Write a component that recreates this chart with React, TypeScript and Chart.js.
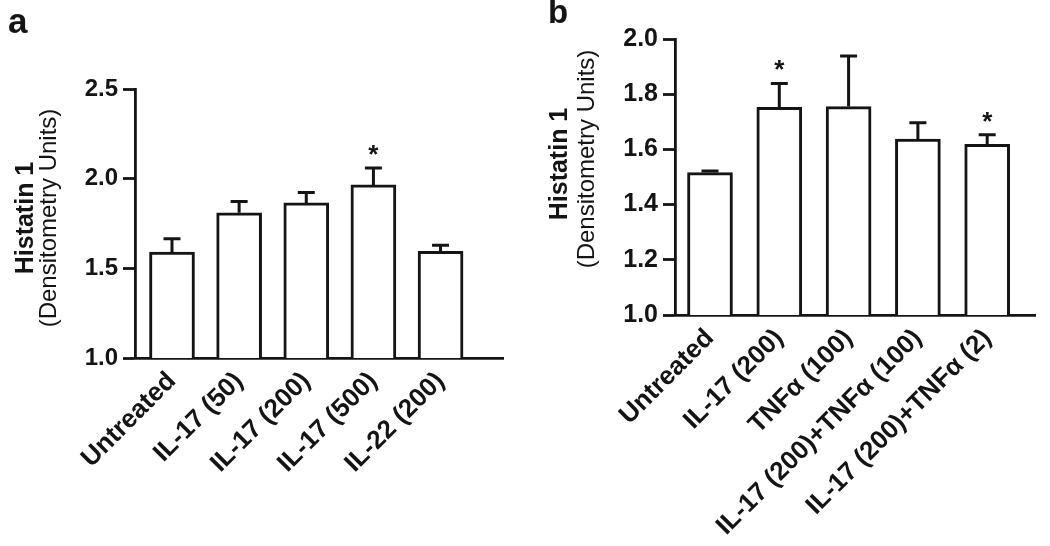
import React, { useEffect, useRef } from 'react';
import { Chart, registerables } from 'chart.js';

Chart.register(...registerables);

const FONT = '"Liberation Sans", Arial, Helvetica, sans-serif';
const INK = '#141414';
const PAGE_H = 546;

// ---------- Panel a data ----------
const categoriesA = ['Untreated', 'IL-17 (50)', 'IL-17 (200)', 'IL-17 (500)', 'IL-22 (200)'];
const valuesA = [1.59, 1.81, 1.865, 1.965, 1.595];
const errorsA = [0.075, 0.063, 0.058, 0.095, 0.034];
const significantA = [false, false, false, true, false];
const yTicksA = [1.0, 1.5, 2.0, 2.5];

// ---------- Panel b data ----------
const categoriesB = ['Untreated', 'IL-17 (200)', 'TNF\u03B1 (100)', 'IL-17 (200)+TNF\u03B1 (100)', 'IL-17 (200)+TNF\u03B1 (2)'];
const valuesB = [1.516, 1.752, 1.755, 1.637, 1.618];
const errorsB = [0.006, 0.087, 0.183, 0.06, 0.035];
const significantB = [false, true, false, false, true];
const yTicksB = [1.0, 1.2, 1.4, 1.6, 1.8, 2.0];

const yTitleMain = 'Histatin 1';
const yTitleSub = '(Densitometry Units)';

type Panel = {
  letter: string;
  categories: string[];
  values: number[];
  errors: number[];
  significant: boolean[];
  yTicks: number[];
  left: number;
  width: number;
  area: { left: number; right: number; top: number; bottom: number };
  xMin: number;
  xMax: number;
  tickFont: number;
  labelFont: number;
  letterPos: { x: number; y: number; size: number };
  title1: { x: number; y: number; size: number };
  title2: { x: number; y: number; size: number };
};

const panelA: Panel = {
  letter: 'a',
  categories: categoriesA,
  values: valuesA,
  errors: errorsA,
  significant: significantA,
  yTicks: yTicksA,
  left: 0,
  width: 520,
  area: { left: 135, right: 503, top: 89, bottom: 358 },
  xMin: -0.551,
  xMax: 4.93,
  tickFont: 24,
  labelFont: 26,
  letterPos: { x: 8, y: 33, size: 35 },
  title1: { x: 33, y: 218, size: 25 },
  title2: { x: 56, y: 218, size: 24 },
};

const panelB: Panel = {
  letter: 'b',
  categories: categoriesB,
  values: valuesB,
  errors: errorsB,
  significant: significantB,
  yTicks: yTicksB,
  left: 520,
  width: 530,
  area: { left: 155, right: 515, top: 39, bottom: 315 },
  xMin: -0.505,
  xMax: 4.69,
  tickFont: 25,
  labelFont: 26,
  letterPos: { x: 28, y: 23, size: 33 },
  title1: { x: 47, y: 164, size: 25 },
  title2: { x: 74, y: 159, size: 24 },
};

function overlayPlugin(p: Panel) {
  return {
    id: 'overlay' + p.letter,
    afterDatasetsDraw(chart: any) {
      const ctx = chart.ctx as CanvasRenderingContext2D;
      const xs = chart.scales.x;
      const ys = chart.scales.y;
      ctx.save();
      ctx.strokeStyle = INK;
      ctx.fillStyle = INK;
      ctx.lineWidth = 3;
      p.values.forEach((v, i) => {
        const x = xs.getPixelForValue(i);
        const yb = ys.getPixelForValue(v);
        const yt = ys.getPixelForValue(v + p.errors[i]);
        ctx.beginPath();
        ctx.moveTo(x, yb);
        ctx.lineTo(x, yt);
        ctx.moveTo(x - 8.5, yt);
        ctx.lineTo(x + 8.5, yt);
        ctx.stroke();
        if (p.significant[i]) {
          const fs = 26;
          ctx.font = `bold ${fs}px ${FONT}`;
          ctx.textAlign = 'center';
          ctx.textBaseline = 'alphabetic';
          ctx.fillText('*', x, yt - 20 + 0.575 * fs);
        }
      });
      ctx.restore();
    },
    afterDraw(chart: any) {
      const ctx = chart.ctx as CanvasRenderingContext2D;
      ctx.save();
      ctx.fillStyle = INK;
      ctx.textBaseline = 'alphabetic';
      ctx.textAlign = 'left';
      ctx.font = `bold ${p.letterPos.size}px ${FONT}`;
      ctx.fillText(p.letter, p.letterPos.x, p.letterPos.y);
      const drawV = (text: string, t: { x: number; y: number; size: number }, weight: string) => {
        ctx.save();
        ctx.translate(t.x, t.y);
        ctx.rotate(-Math.PI / 2);
        ctx.textAlign = 'center';
        ctx.font = `${weight} ${t.size}px ${FONT}`;
        ctx.fillText(text, 0, 0);
        ctx.restore();
      };
      drawV(yTitleMain, p.title1, 'bold');
      drawV(yTitleSub, p.title2, 'normal');
      ctx.restore();
    },
  };
}

function buildChart(canvas: HTMLCanvasElement, p: Panel) {
  const a = p.area;
  const yMin = p.yTicks[0];
  const yMax = p.yTicks[p.yTicks.length - 1];
  return new Chart(canvas, {
    type: 'bar',
    data: {
      datasets: [
        {
          data: p.values.map((v, i) => ({ x: i, y: v })),
          backgroundColor: '#ffffff',
          borderColor: INK,
          borderWidth: 3,
          borderSkipped: 'bottom',
          barThickness: 45,
        } as any,
      ],
    },
    options: {
      responsive: false,
      animation: false,
      devicePixelRatio: 1,
      layout: { padding: { left: 0, top: a.top, right: p.width - a.right, bottom: 0 } },
      plugins: { legend: { display: false }, tooltip: { enabled: false }, title: { display: false } },
      scales: {
        x: {
          type: 'linear',
          offset: false,
          min: p.xMin,
          max: p.xMax,
          afterBuildTicks: (scale: any) => {
            scale.ticks = p.categories.map((_, i) => ({ value: i }));
          },
          afterFit: (scale: any) => {
            scale.height = PAGE_H - a.bottom;
          },
          grid: { display: false, drawTicks: false, offset: false },
          border: { display: true, color: INK, width: 2.8 },
          ticks: {
            autoSkip: false,
            minRotation: 45,
            maxRotation: 45,
            padding: 8,
            color: INK,
            font: { family: FONT, size: p.labelFont, weight: 'bold' },
            callback: (v: any) => p.categories[Math.round(Number(v))] ?? '',
          },
        },
        y: {
          type: 'linear',
          min: yMin,
          max: yMax,
          afterBuildTicks: (scale: any) => {
            scale.ticks = p.yTicks.map((v) => ({ value: v }));
          },
          afterFit: (scale: any) => {
            scale.width = a.left;
          },
          grid: {
            display: true,
            drawOnChartArea: false,
            drawTicks: true,
            tickLength: 12,
            tickWidth: 2.8,
            tickColor: INK,
            color: INK,
          },
          border: { display: true, color: INK, width: 2.8 },
          ticks: {
            padding: 5,
            color: INK,
            font: { family: FONT, size: p.tickFont, weight: 'bold' },
            callback: (v: any) => Number(v).toFixed(1),
          },
        },
      },
    } as any,
    plugins: [overlayPlugin(p)],
  });
}

function PanelCanvas({ p }: { p: Panel }) {
  const ref = useRef<HTMLCanvasElement | null>(null);
  useEffect(() => {
    if (!ref.current) return;
    const chart = buildChart(ref.current, p);
    return () => chart.destroy();
  }, [p]);
  return (
    <canvas
      ref={ref}
      width={p.width}
      height={PAGE_H}
      style={{ position: 'absolute', left: p.left, top: 0, width: p.width, height: PAGE_H }}
    />
  );
}

export default function App() {
  return (
    <div
      style={{
        position: 'fixed',
        left: 0,
        top: 0,
        width: 1050,
        height: PAGE_H,
        background: '#ffffff',
        overflow: 'hidden',
      }}
    >
      <PanelCanvas p={panelA} />
      <PanelCanvas p={panelB} />
    </div>
  );
}
